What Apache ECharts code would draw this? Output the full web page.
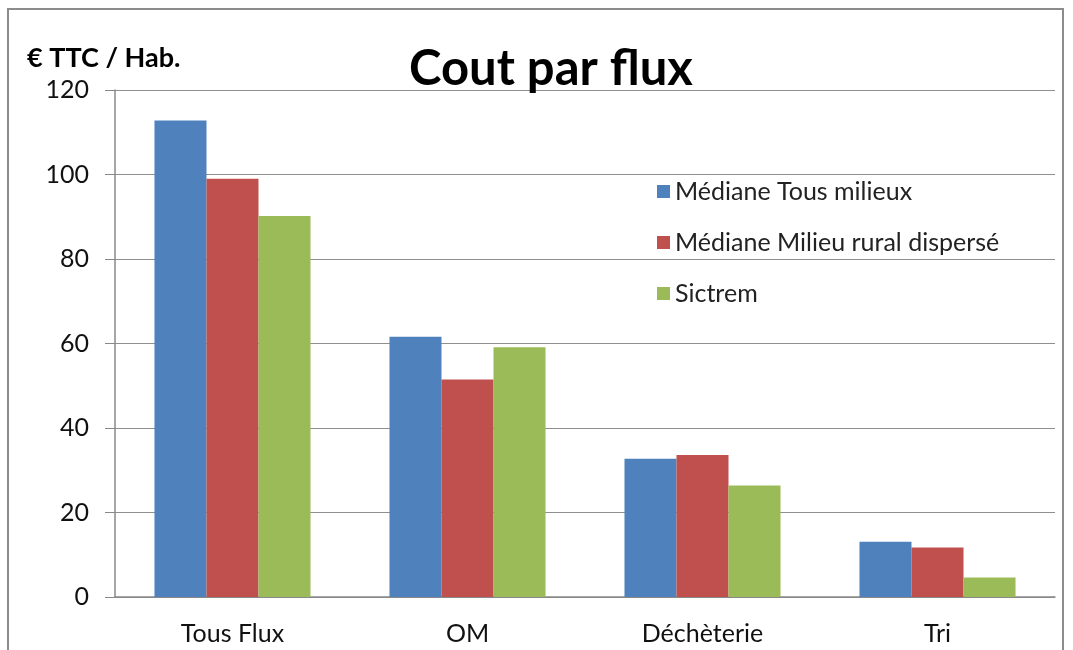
<!DOCTYPE html>
<html><head><meta charset="utf-8">
<script src="https://cdn.jsdelivr.net/npm/echarts@6/dist/echarts.min.js"></script>
<style>html,body{margin:0;padding:0;background:#fff}#c{width:1073px;height:650px}</style>
</head><body><div id="c"></div>
<script>
const categories = ['Tous Flux', 'OM', 'Déchèterie', 'Tri'];
const seriesNames = ['Médiane Tous milieux', 'Médiane Milieu rural dispersé', 'Sictrem'];
const medianeTous = [112.8, 61.6, 32.7, 13.1];
const medianeRural = [99.0, 51.5, 33.6, 11.7];
const sictrem = [90.2, 59.1, 26.4, 4.6];
const colors = ['#4F81BD', '#C0504D', '#9BBB59'];
const FONT = 'Lato, "Open Sans", sans-serif';

const chart = echarts.init(document.getElementById('c'));
const values = [medianeTous, medianeRural, sictrem];
chart.setOption({
  animation: false,
  color: colors,
  title: {
    text: 'Cout par flux', left: 546, top: 40, textAlign: 'center',
    textStyle: { fontFamily: FONT, fontSize: 49, fontWeight: 'bold', color: '#000' }
  },
  legend: {
    orient: 'vertical', left: 652, top: 174, itemGap: 26,
    itemWidth: 13, itemHeight: 13, icon: 'rect',
    textStyle: { fontFamily: FONT, fontSize: 25, color: '#222', padding: [0, 0, 0, 0] },
    data: seriesNames
  },
  graphic: [{
    type: 'rect', shape: { x: 8, y: 9, width: 1055, height: 700 },
    style: { fill: 'none', stroke: '#8c8c8c', lineWidth: 2 }, silent: true
  }],
  grid: { left: 115, right: 18, top: 90, bottom: 53 },
  xAxis: {
    type: 'category', data: categories,
    axisLine: { lineStyle: { color: '#888', width: 1.5 } },
    axisTick: { show: false },
    axisLabel: { fontFamily: FONT, fontSize: 25, color: '#111', margin: 24 }
  },
  yAxis: {
    type: 'value', min: 0, max: 120, interval: 20,
    name: '€ TTC / Hab.', nameLocation: 'end', nameGap: 18,
    nameTextStyle: { fontFamily: FONT, fontSize: 27, fontWeight: 'bold', color: '#000', align: 'left', padding: [0, 0, 0, -88] },
    axisLine: { show: true, lineStyle: { color: '#888', width: 1.5 } },
    axisTick: { show: true, length: 10, lineStyle: { color: '#888' } },
    axisLabel: { fontFamily: FONT, fontSize: 25, color: '#111', margin: 26 },
    splitLine: { lineStyle: { color: '#8f8f8f', width: 1.2 } }
  },
  series: seriesNames.map((n, i) => ({
    name: n, type: 'bar', data: values[i],
    barGap: '0%', barCategoryGap: '33.6%',
    itemStyle: { color: colors[i] }
  }))
});
</script></body></html>
